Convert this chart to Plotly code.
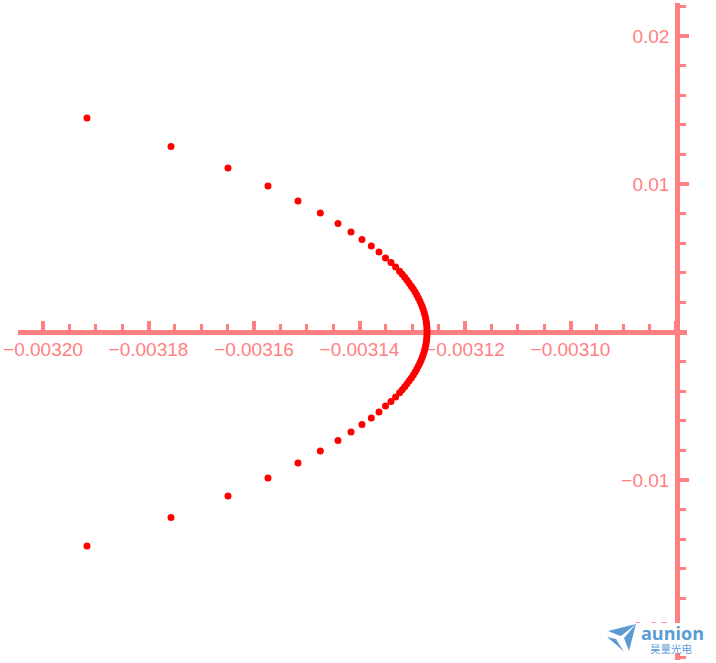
import plotly.graph_objects as go

# Upper branch of the point set (lower branch mirrors it)
x_vals = [-0.00319166, -0.00317573, -0.00316493, -0.00315735, -0.00315166, -0.00314743,
          -0.00314408, -0.00314161, -0.00313953, -0.00313776, -0.00313630, -0.00313507,
          -0.00313403, -0.00313316, -0.00313240, -0.00313190, -0.00313143, -0.00313099,
          -0.00313057, -0.00313017, -0.00312980, -0.00312945, -0.00312913, -0.00312884,
          -0.00312856, -0.00312832, -0.00312809, -0.00312790, -0.00312772, -0.00312757,
          -0.00312745, -0.00312735, -0.00312728, -0.00312723, -0.00312720]
y_vals = [0.01446, 0.01253, 0.01108, 0.00986, 0.00885, 0.00804, 0.00733, 0.00676, 0.00625,
          0.00581, 0.00541, 0.00500, 0.00470, 0.00439, 0.0041, 0.0039, 0.0037, 0.0035,
          0.0033, 0.0031, 0.0029, 0.0027, 0.0025, 0.0023, 0.0021, 0.0019, 0.0017, 0.0015,
          0.0013, 0.0011, 0.0009, 0.0007, 0.0005, 0.0003, 0.0001]

x_ticks = [-0.00320, -0.00318, -0.00316, -0.00314, -0.00312, -0.00310, -0.00308]
x_labels = ["\u22120.00320", "\u22120.00318", "\u22120.00316", "\u22120.00314", "\u22120.00312", "\u22120.00310", ""]
y_ticks = [-0.02, -0.01, 0.01, 0.02]
y_labels = ["\u22120.02", "\u22120.01", "0.01", "0.02"]

W, H = 716, 663
AXIS = "#ff8080"
FONT = dict(family="Liberation Sans, Arial, sans-serif", size=19, color=AXIS)
LOGO = "#5b9bd5"


def pts(p):
    return "M " + " L ".join(f"{a / W:.5f},{1 - b / H:.5f}" for a, b in p) + " Z"


fig = go.Figure(go.Scatter(
    x=x_vals + x_vals, y=y_vals + [-v for v in y_vals], mode="markers",
    marker=dict(color="#ff0000", size=7, line=dict(width=0)),
))

fig.update_layout(
    width=W, height=H, autosize=False, showlegend=False,
    margin=dict(l=0, r=0, t=0, b=0, pad=0, autoexpand=False),
    paper_bgcolor="white", plot_bgcolor="white",
    xaxis=dict(
        domain=[18 / W, 687 / W], range=[-0.003204739, -0.003077915],
        anchor="free", position=(H - 332) / H, side="bottom", automargin=False,
        showgrid=False, zeroline=False, showline=True, linecolor=AXIS, linewidth=4.5,
        layer="below traces",
        tickmode="array", tickvals=x_ticks, ticktext=x_labels, tickfont=FONT,
        ticklabelstandoff=-2,
        ticks="inside", ticklen=9, tickwidth=3.5, tickcolor=AXIS,
        minor=dict(ticks="inside", ticklen=6, tickwidth=3, tickcolor=AXIS,
                   tick0=-0.0032, dtick=0.000005, showgrid=False),
    ),
    yaxis=dict(
        domain=[3 / H, 660 / H], range=[-0.02216, 0.02223],
        anchor="free", position=677 / W, side="left", automargin=False,
        showgrid=False, zeroline=False, showline=True, linecolor=AXIS, linewidth=4.5,
        layer="below traces",
        tickmode="array", tickvals=y_ticks, ticktext=y_labels, tickfont=FONT,
        ticklabelstandoff=2,
        ticks="inside", ticklen=9, tickwidth=3.5, tickcolor=AXIS,
        minor=dict(ticks="inside", ticklen=6, tickwidth=3, tickcolor=AXIS,
                   tick0=0, dtick=0.002, showgrid=False),
    ),
    shapes=[
        dict(type="rect", xref="paper", yref="paper", x0=605 / W, x1=708 / W,
             y0=1 - 653 / H, y1=1 - 623 / H, fillcolor="white", line_width=0, layer="above"),
        dict(type="path", xref="paper", yref="paper", layer="above", fillcolor=LOGO, line_width=0,
             path=pts([(608, 631), (636, 624), (621, 636), (618, 635)])),
        dict(type="path", xref="paper", yref="paper", layer="above", fillcolor=LOGO, line_width=0,
             path=pts([(636, 624), (629, 651), (624, 638)])),
        dict(type="path", xref="paper", yref="paper", layer="above", fillcolor=LOGO, line_width=0,
             path=pts([(607, 637), (616, 639), (624, 652), (619, 647)])),
    ],
    annotations=[
        dict(text="<b>aunion</b>", xref="paper", yref="paper", x=672 / W, y=1 - 633 / H,
             showarrow=False, xanchor="center", yanchor="middle",
             font=dict(family="Open Sans, sans-serif", size=18, color=LOGO)),
        dict(text="昊量光电", xref="paper", yref="paper", x=671 / W, y=1 - 648 / H,
             showarrow=False, xanchor="center", yanchor="middle",
             font=dict(family="Noto Sans CJK SC", size=10.5, color=LOGO)),
    ],
)

fig.write_html("out.html", config=dict(displayModeBar=False),
               post_script="document.body.style.margin='0';document.body.style.overflow='hidden';")
